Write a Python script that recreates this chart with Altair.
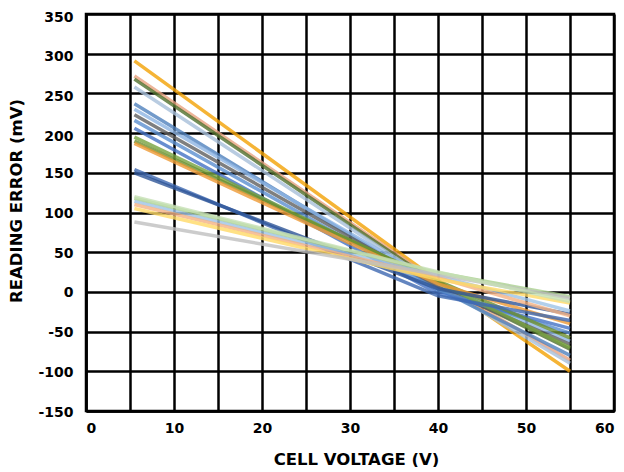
import altair as alt
import pandas as pd

# Cell voltages at which each trace is sampled (V)
x_points = [5.5, 40, 55]

# Reading error (mV) of each trace at the x_points above
series_names = [f"S{i+1}" for i in range(20)]
start_vals = [291, 272, 268, 258, 237, 230, 223, 216, 206, 195, 190, 187, 154, 150, 118, 114, 110, 105, 88, 120]
mid_vals   = [14, 12, 10, 8, 4, 10, 6, 2, -2, 12, 14, 10, -5, 4, 24, 20, 18, 16, 22, 25]
end_vals   = [-100, -86, -72, -90, -80, -62, -66, -52, -46, -70, -58, -40, -36, -28, -6, -24, -30, -14, -8, -12]
colors = ["#F2A104", "#E9A27F", "#50702D", "#A7BFD9", "#4F81BD", "#8DB4E2", "#5F5F5F",
          "#5B8FD0", "#4472C4", "#77A33F", "#6B8E2E", "#EE9A35", "#3D68B0", "#2E5597",
          "#A9D08E", "#9DC3E6", "#F4B183", "#FFD966", "#BFBFBF", "#C5E0B4"]

x_ticks = list(range(0, 61, 5))
y_ticks = list(range(-150, 351, 50))

rows = []
for i, name in enumerate(series_names):
    for x, v in zip(x_points, [start_vals[i], mid_vals[i], end_vals[i]]):
        rows.append({"series": name, "order": i, "voltage": x, "error": v})
df = pd.DataFrame(rows)

FONT = "DejaVu Sans"

chart = alt.Chart(df).mark_line(strokeWidth=3.5, opacity=0.8).encode(
    x=alt.X("voltage:Q",
            scale=alt.Scale(domain=[0, 60], nice=False),
            axis=alt.Axis(values=x_ticks, title="CELL VOLTAGE (V)",
                          labelExpr="datum.value % 10 == 0 ? '' + datum.value : ''",
                          labelPadding=10, labelBaseline="top",
                          titleX=270, titleY=53, titleBaseline="alphabetic")),
    y=alt.Y("error:Q",
            scale=alt.Scale(domain=[-150, 350], nice=False),
            axis=alt.Axis(values=y_ticks, title="READING ERROR (mV)",
                          labelExpr="'' + datum.value",
                          labelPadding=13,
                          labelOffset={"condition": {"test": "datum.value >= 200", "value": 3},
                                       "value": 1},
                          titleX=-65, titleY=186.5, titleAngle=-90,
                          titleBaseline="alphabetic", titleAlign="center")),
    color=alt.Color("series:N", scale=alt.Scale(domain=series_names, range=colors), legend=None),
    detail="series:N",
    order=alt.Order("voltage:Q"),
).properties(
    width=528,
    height=397,
    autosize=alt.AutoSizeParams(type="none"),
    padding={"left": 78, "top": 6, "right": 2, "bottom": 56},
).configure_view(
    stroke="black", strokeWidth=2.5
).configure_axis(
    grid=True, gridColor="black", gridWidth=2.5, gridOpacity=1,
    domain=True, domainColor="black", domainWidth=2.5,
    ticks=False,
    labelFont=FONT, labelFontSize=14, labelFontWeight="bold", labelColor="black",
    titleFont=FONT, titleFontSize=16.5, titleFontWeight="bold", titleColor="black",
)

chart.save("out.html", embed_options={"renderer": "svg", "actions": False})
